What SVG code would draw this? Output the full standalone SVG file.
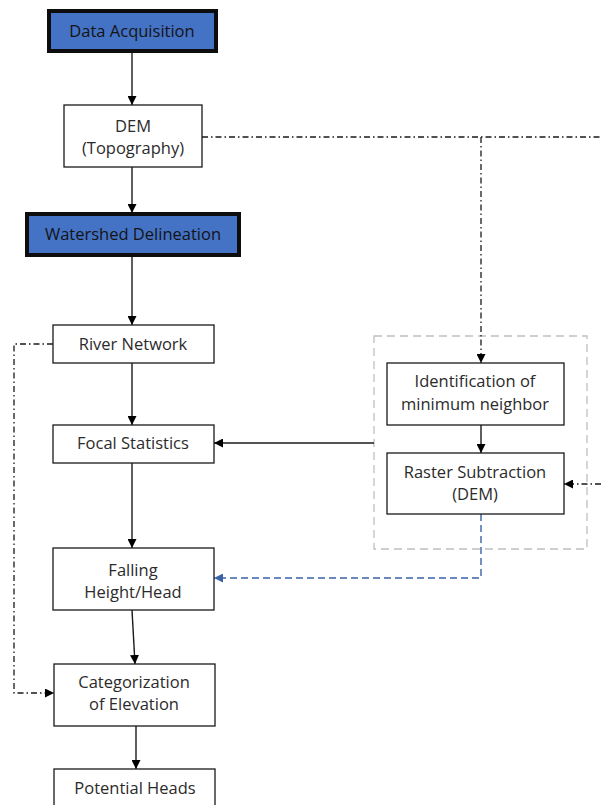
<svg xmlns="http://www.w3.org/2000/svg" width="601" height="805" viewBox="0 0 601 805">
<defs>
<style>
.box{fill:#fff;stroke:#1a1a1a;stroke-width:1.3}
.main{fill:#4472C4;stroke:#0d0d0d;stroke-width:4}
.t{font-family:"Open Sans","Noto Sans",sans-serif;font-size:16.5px;fill:#2b2b2b;text-anchor:middle}
.c{fill:none;stroke:#1a1a1a;stroke-width:1.4}
.dd{fill:none;stroke:#1a1a1a;stroke-width:1.3;stroke-dasharray:6 3 1.5 3}
.gr{fill:none;stroke:#bfbfbf;stroke-width:1.3;stroke-dasharray:8 5}
.bl{fill:none;stroke:#3a62a7;stroke-width:1.4;stroke-dasharray:7 4}
</style>
<marker id="ah" viewBox="0 0 10 10" refX="10" refY="5" markerWidth="9" markerHeight="9" markerUnits="userSpaceOnUse" orient="auto"><path d="M0,0L10,5L0,10z" fill="#000"/></marker>
<marker id="ahb" viewBox="0 0 10 10" refX="10" refY="5" markerWidth="9" markerHeight="9" markerUnits="userSpaceOnUse" orient="auto"><path d="M0,0L10,5L0,10z" fill="#3a62a7"/></marker>
</defs>
<rect width="601" height="805" fill="#fff"/>
<g id="container"><rect class="gr" x="374" y="336" width="213" height="213"/></g>
<g id="connectors">
<path class="c" d="M132,52V105" marker-end="url(#ah)"/>
<path class="c" d="M132,167V213" marker-end="url(#ah)"/>
<path class="c" d="M132,257V325" marker-end="url(#ah)"/>
<path class="c" d="M132,363V425" marker-end="url(#ah)"/>
<path class="c" d="M132,463V548" marker-end="url(#ah)"/>
<path class="c" d="M132,610L135,664" marker-end="url(#ah)"/>
<path class="c" d="M136,726V769" marker-end="url(#ah)"/>
<path class="dd" d="M202,137H601"/>
<path class="dd" d="M481,137V363" marker-end="url(#ah)"/>
<path class="dd" d="M53,344H14V693H54" marker-end="url(#ah)"/>
<path class="c" d="M481,425V453" marker-end="url(#ah)"/>
<path class="c" d="M374,443H214" stroke="#404040" marker-end="url(#ah)"/>
<path class="dd" d="M601,484H564" marker-end="url(#ah)"/>
<path class="bl" d="M481,514V578H214" marker-end="url(#ahb)"/>
</g>
<g id="data-acquisition"><rect class="main" x="49" y="11" width="167" height="40"/><text class="t" x="132" y="37" style="fill:#141414">Data Acquisition</text></g>
<g id="dem"><rect class="box" x="64" y="105" width="138" height="62"/><text class="t" x="133" y="132">DEM</text><text class="t" x="133" y="154">(Topography)</text></g>
<g id="watershed"><rect class="main" x="27" y="214" width="212" height="41"/><text class="t" x="133" y="240" style="fill:#141414">Watershed Delineation</text></g>
<g id="river-network"><rect class="box" x="53" y="325" width="161" height="38"/><text class="t" x="133" y="350">River Network</text></g>
<g id="focal-statistics"><rect class="box" x="53" y="425" width="161" height="38"/><text class="t" x="133" y="449">Focal Statistics</text></g>
<g id="falling-height"><rect class="box" x="53" y="548" width="161" height="62"/><text class="t" x="133" y="576">Falling</text><text class="t" x="133" y="598">Height/Head</text></g>
<g id="categorization"><rect class="box" x="54" y="664" width="161" height="62"/><text class="t" x="134" y="688">Categorization</text><text class="t" x="134" y="710">of Elevation</text></g>
<g id="potential-heads"><rect class="box" x="54" y="769" width="161" height="40"/><text class="t" x="135" y="794">Potential Heads</text></g>
<g id="identification"><rect class="box" x="387" y="363" width="177" height="62"/><text class="t" x="475" y="387">Identification of</text><text class="t" x="475" y="410">minimum neighbor</text></g>
<g id="raster-subtraction"><rect class="box" x="387" y="453" width="177" height="61"/><text class="t" x="475" y="478">Raster Subtraction</text><text class="t" x="475" y="500">(DEM)</text></g>
</svg>
